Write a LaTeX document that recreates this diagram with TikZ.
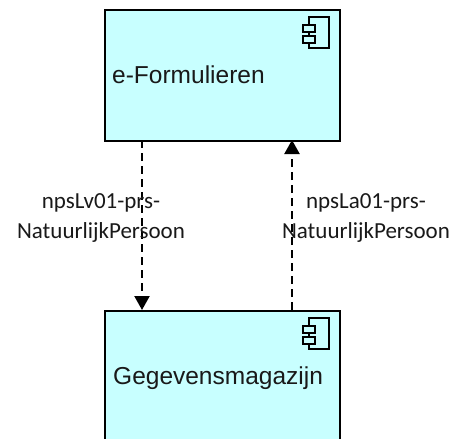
\documentclass[tikz,border=0pt]{standalone}
\usepackage{fontspec}
\setmainfont{Liberation Sans}
\newfontfamily\labelfont{Carlito}
\usetikzlibrary{arrows.meta}
\definecolor{compfill}{HTML}{C8FFFF}
\tikzset{
  x=1pt,y=-1pt,
  compbox/.style={draw=black,line width=2.2pt,fill=compfill,minimum width=235pt,anchor=north west,inner sep=0pt},
  comptext/.style={font=\fontsize{24.5}{28}\selectfont,anchor=base west,inner sep=0pt,text=black!90},
  flow/.style={line width=2.2pt,dash pattern=on 8pt off 5pt,-{Triangle[length=14pt,width=15pt]}},
  flowlabel/.style={font=\labelfont\fontsize{23}{30}\selectfont,align=center,anchor=center,inner sep=0pt,text=black!90},
  iconline/.style={line width=1.5pt,draw=black}
}
\newcommand{\compicon}[2]{%
  \draw[iconline] (#1+6,#2+8) -- (#1+6,#2) -- (#1+26,#2) -- (#1+26,#2+31) -- (#1+6,#2+31) -- (#1+6,#2+26);
  \draw[iconline] (#1+6,#2+15) -- (#1+6,#2+19);
  \draw[iconline] (#1,#2+8) rectangle (#1+12,#2+15);
  \draw[iconline] (#1,#2+19) rectangle (#1+12,#2+26);
}
\begin{document}
\begin{tikzpicture}
\useasboundingbox (0,0) rectangle (459,439);
\clip (0,0) rectangle (459,439);
\node[compbox,minimum height=131pt] (form) at (104,9) {};
\node[compbox,minimum height=160pt] (mag) at (104,310) {};
\compicon{303}{17}
\compicon{303}{318}
\node[comptext] (t1) at (112,83) {e-Formulieren};
\node[comptext] (t2) at (113,384) {Gegevensmagazijn};
\coordinate (a) at (142,140);
\coordinate (b) at (142,310);
\coordinate (c) at (292,310);
\coordinate (d) at (292,140);
\draw[flow] (a) -- (b);
\draw[flow] (c) -- (d);
\node[flowlabel] (l1) at (101,218) {npsLv01-prs-\\NatuurlijkPersoon};
\node[flowlabel] (l2) at (366,218) {npsLa01-prs-\\NatuurlijkPersoon};
\end{tikzpicture}
\end{document}
